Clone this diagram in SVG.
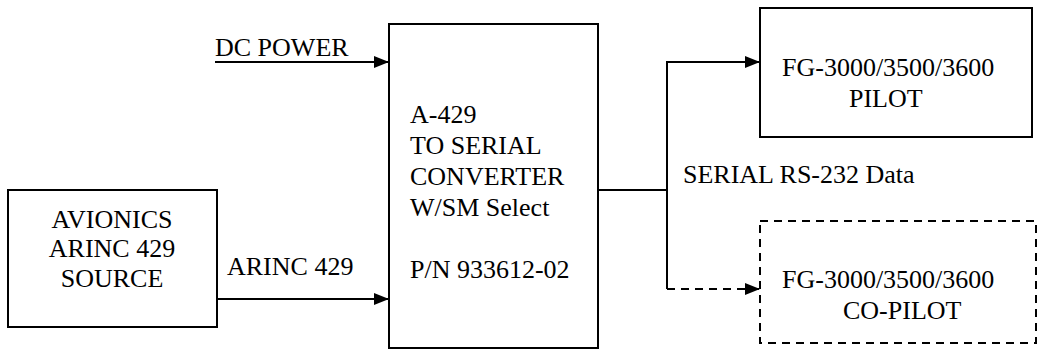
<svg xmlns="http://www.w3.org/2000/svg" width="1037" height="349" viewBox="0 0 1037 349">
<style>
  .box { fill: #fff; stroke: #000; stroke-width: 2; }
  .dash { stroke-dasharray: 8,6; }
  .t { font-family: 'Liberation Serif', 'DejaVu Serif', serif; font-size: 26px; fill: #000; }
  .c { stroke: #000; stroke-width: 2; fill: none; }
</style>
<defs>
  <marker id="ah" markerUnits="userSpaceOnUse" viewBox="0 0 15 12" refX="15" refY="6" markerWidth="15" markerHeight="12" orient="auto">
    <path d="M0,0 L15,6 L0,12 z" fill="#000"/>
  </marker>
</defs>
<rect width="1037" height="349" fill="#fff"/>
<g id="connectors">
  <line class="c" x1="215" y1="62" x2="389" y2="62" marker-end="url(#ah)"/>
  <line class="c" x1="217" y1="299" x2="389" y2="299" marker-end="url(#ah)"/>
  <polyline class="c" points="598,190 667,190"/>
  <polyline class="c" points="667,289 667,62 760,62" marker-end="url(#ah)"/>
  <line class="c dash" x1="667" y1="289" x2="760" y2="289" marker-end="url(#ah)"/>
  <text class="t" x="215" y="56">DC POWER</text>
  <text class="t" x="227" y="275">ARINC 429</text>
  <text class="t" x="683" y="183">SERIAL RS-232 Data</text>
</g>
<g id="avionics">
  <rect class="box" x="8" y="190" width="209" height="137"/>
  <text class="t" x="112" y="228" text-anchor="middle">AVIONICS</text>
  <text class="t" x="112" y="257" text-anchor="middle">ARINC 429</text>
  <text class="t" x="112" y="287" text-anchor="middle">SOURCE</text>
</g>
<g id="converter">
  <rect class="box" x="389" y="24" width="209" height="324"/>
  <text class="t" x="410" y="123">A-429</text>
  <text class="t" x="410" y="154">TO SERIAL</text>
  <text class="t" x="410" y="185">CONVERTER</text>
  <text class="t" x="410" y="216">W/SM Select</text>
  <text class="t" x="410" y="278">P/N 933612-02</text>
</g>
<g id="pilot">
  <rect class="box" x="760" y="8" width="272" height="129"/>
  <text class="t" x="782" y="76">FG-3000/3500/3600</text>
  <text class="t" x="849" y="107">PILOT</text>
</g>
<g id="copilot">
  <rect class="box dash" x="760" y="221" width="276" height="122"/>
  <text class="t" x="782" y="288">FG-3000/3500/3600</text>
  <text class="t" x="843" y="319">CO-PILOT</text>
</g>
</svg>
